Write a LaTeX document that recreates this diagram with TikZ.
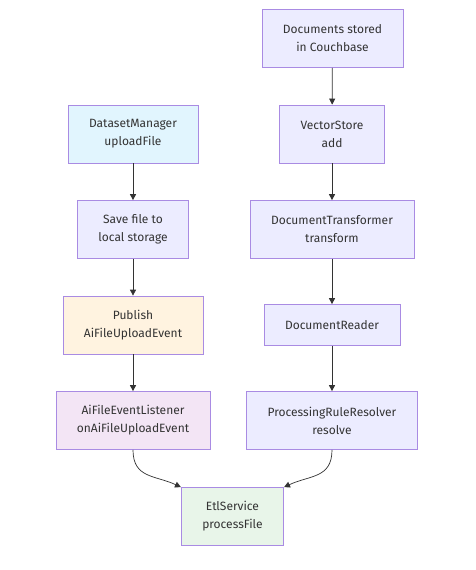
\documentclass[tikz,border=0pt]{standalone}
\usepackage{fontspec}
\setmainfont{Fira Sans}
\usetikzlibrary{arrows.meta,positioning}
\definecolor{boxline}{HTML}{A98BE3}
\definecolor{linegray}{HTML}{333333}
\definecolor{defaultfill}{HTML}{ECECFF}
\definecolor{bluefill}{HTML}{E1F5FE}
\definecolor{orangefill}{HTML}{FFF3E0}
\definecolor{pinkfill}{HTML}{F3E5F5}
\definecolor{greenfill}{HTML}{E8F5E9}

\begin{document}
\begin{tikzpicture}[x=1pt, y=-1pt,
    box/.style={draw=boxline, fill=defaultfill, align=center, minimum height=58pt, inner xsep=21pt, line width=0.7pt, text=linegray, font=\fontsize{12}{18}\selectfont},
    arr/.style={-{Triangle[length=6pt,width=6pt]}, draw=linegray, line width=0.7pt}
]
\useasboundingbox (0,0) rectangle (475,570);
% left column
\node[box, fill=bluefill] (dataset) at (133,134) {DatasetManager\\uploadFile};
\node[box] (save) at (133,229.5) {Save file to\\local storage};
\node[box, fill=orangefill] (publish) at (133,325) {Publish\\AiFileUploadEvent};
\node[box, fill=pinkfill] (listener) at (133,420.5) {AiFileEventListener\\onAiFileUploadEvent};
% right column
\node[box] (couch) at (332.5,38.5) {Documents stored\\in Couchbase};
\node[box] (store) at (332,134) {VectorStore\\add};
\node[box] (transformer) at (332,229.5) {DocumentTransformer\\transform};
\node[box, minimum height=41pt] (reader) at (332,325) {DocumentReader};
\node[box] (resolver) at (332,420.5) {ProcessingRuleResolver\\resolve};
% bottom
\node[box, fill=greenfill] (etl) at (232.5,516.5) {EtlService\\processFile};

\draw[arr] (dataset) -- (save);
\draw[arr] (save) -- (publish);
\draw[arr] (publish) -- (listener);
\draw[arr] (couch) -- (store);
\draw[arr] (store) -- (transformer);
\draw[arr] (transformer) -- (reader);
\draw[arr] (reader) -- (resolver);
\draw[arr] (listener.south) to[out=-90, in=155, looseness=1.2] (etl.north west);
\draw[arr] (resolver.south) to[out=-90, in=25, looseness=1.2] (etl.north east);
\end{tikzpicture}
\end{document}
